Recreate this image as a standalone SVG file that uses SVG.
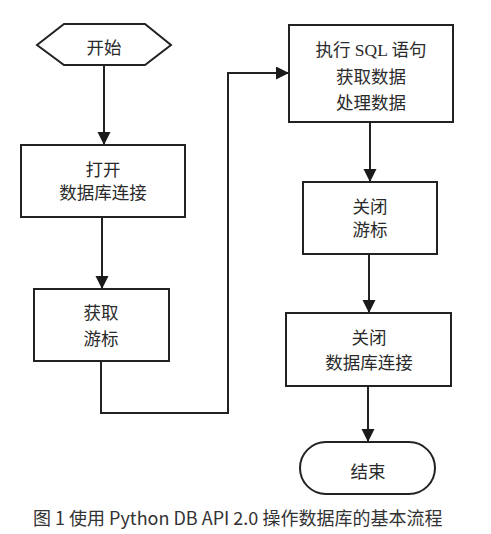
<svg xmlns="http://www.w3.org/2000/svg" width="491" height="534" viewBox="0 0 491 534">
<defs>
<marker id="arr" markerWidth="12" markerHeight="14" refX="13" refY="6.5" orient="auto" markerUnits="userSpaceOnUse">
<path d="M0,0 L13,6.5 L0,13 Z" fill="#1a1a1a"/>
</marker>
<style>
.shape{fill:#fff;stroke:#222;stroke-width:2}
.lbl{font-family:"Liberation Serif","Noto Sans CJK SC",serif;font-size:17.5px;fill:#2a2a2a;text-anchor:middle}
.edge{fill:none;stroke:#222;stroke-width:2}
.cap{font-family:"Noto Sans CJK SC","Noto Sans",sans-serif;font-size:18px;fill:#333}
</style>
</defs>
<rect width="491" height="534" fill="#fff"/>
<g id="start">
<polygon class="shape" points="37,45 64,24 145,24 171,45 145,65 64,65"/>
<text class="lbl" x="104" y="54">开始</text>
</g>
<g id="open-db">
<rect class="shape" x="21" y="145" width="164" height="72"/>
<text class="lbl" x="103" y="176">打开</text>
<text class="lbl" x="103" y="199">数据库连接</text>
</g>
<g id="get-cursor">
<rect class="shape" x="34" y="289" width="135" height="72"/>
<text class="lbl" x="101" y="319">获取</text>
<text class="lbl" x="101" y="345">游标</text>
</g>
<g id="exec-sql">
<rect class="shape" x="289" y="25" width="164" height="97"/>
<text class="lbl" x="371" y="56">执行 SQL 语句</text>
<text class="lbl" x="371" y="83">获取数据</text>
<text class="lbl" x="371" y="109">处理数据</text>
</g>
<g id="close-cursor">
<rect class="shape" x="303" y="182" width="134" height="72"/>
<text class="lbl" x="370" y="213">关闭</text>
<text class="lbl" x="370" y="236">游标</text>
</g>
<g id="close-db">
<rect class="shape" x="286" y="313" width="165" height="73"/>
<text class="lbl" x="369" y="344">关闭</text>
<text class="lbl" x="369" y="369">数据库连接</text>
</g>
<g id="end">
<rect class="shape" x="300" y="442" width="135" height="52" rx="26" ry="26"/>
<text class="lbl" x="368" y="478">结束</text>
</g>
<g id="connectors">
<path class="edge" d="M104,65 V145" marker-end="url(#arr)"/>
<path class="edge" d="M102,217 V289" marker-end="url(#arr)"/>
<path class="edge" d="M101,361 V413 H228 V73 H289" marker-end="url(#arr)"/>
<path class="edge" d="M370,122 V182" marker-end="url(#arr)"/>
<path class="edge" d="M369,254 V313" marker-end="url(#arr)"/>
<path class="edge" d="M368,386 V442" marker-end="url(#arr)"/>
</g>
<text class="cap" x="33" y="525">图 1 使用 Python DB API 2.0 操作数据库的基本流程</text>
</svg>
